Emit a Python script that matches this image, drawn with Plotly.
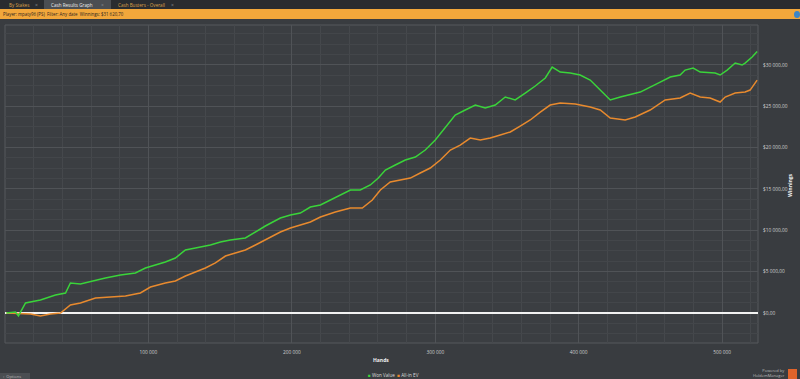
import plotly.graph_objects as go

# ---- data ----
net_hands = [1000, 7300, 9400, 14300, 24700, 35200, 42200, 45600, 52600, 63100, 70000, 80500,
             90900, 97900, 104900, 111800, 118800, 125800, 132800, 143200, 150200, 157100,
             167600, 174600, 181500, 192000, 199000, 205900, 212900, 219900, 226800, 233800,
             240800, 247700, 254700, 260300, 265200, 272100, 279100, 286100, 293000, 300000,
             307000, 313900, 320900, 327900, 334800, 341800, 348800, 355700, 362700, 369700,
             376700, 381500, 387100, 394100, 401000, 408000, 415000, 422000, 429000, 442900,
             456800, 463800, 470700, 474200, 479800, 484700, 495100, 498600, 503500, 509100,
             513900, 516000, 520900, 524400]
net_won = [0, 120, -360, 1210, 1570, 2180, 2420, 3630, 3510, 3990, 4230, 4590,
           4840, 5440, 5800, 6170, 6650, 7620, 7860, 8220, 8590, 8830,
           9070, 9790, 10520, 11490, 11850, 12090, 12820, 13060, 13660, 14270,
           14870, 14870, 15480, 16320, 17290, 17900, 18500, 18860, 19710, 20920,
           22490, 23940, 24550, 25150, 24790, 25150, 26120, 25760, 26600, 27450,
           28420, 29750, 29140, 29020, 28780, 28170, 26960, 25760, 26120, 26720,
           27930, 28540, 28780, 29380, 29630, 29140, 29020, 28780, 29380, 30230,
           29990, 30230, 30960, 31620]

ev_hands = [1000, 10800, 17800, 24700, 31700, 38700, 45600, 52600, 63100, 73500, 84000, 94400,
            101400, 111800, 118800, 125800, 132800, 139700, 146700, 153700, 160600, 167600,
            174600, 181500, 192000, 199000, 205900, 212900, 219900, 230300, 240800, 249100,
            256100, 261700, 268600, 275600, 282600, 289500, 296500, 303500, 310500, 317400,
            324400, 331400, 338300, 345300, 352300, 359200, 366200, 373200, 380100, 387100,
            397600, 408000, 415000, 422000, 432400, 439400, 449800, 460300, 470700, 477700,
            484700, 491600, 498600, 502100, 509100, 516000, 519500, 524400]
ev_won = [0, -120, -120, -360, -120, 0, 970, 1210, 1810, 1930, 2060, 2420,
          3140, 3630, 3870, 4470, 4960, 5440, 6050, 6890, 7260, 7620,
          8220, 8830, 9790, 10280, 10640, 11000, 11610, 12210, 12700, 12700,
          13660, 14870, 15840, 16080, 16320, 16930, 17530, 18500, 19710, 20310,
          21160, 20920, 21160, 21520, 21890, 22610, 23340, 24300, 25150, 25390,
          25270, 24910, 24550, 23580, 23340, 23700, 24550, 25760, 26000, 26600,
          26120, 26000, 25510, 26120, 26600, 26720, 26960, 28170]

x_ticks = [100000, 200000, 300000, 400000, 500000]
x_labels = ["100 000", "200 000", "300 000", "400 000", "500 000"]
y_ticks = [0, 5000, 10000, 15000, 20000, 25000, 30000]
y_labels = ["$0,00", "$5 000,00", "$10 000,00", "$15 000,00", "$20 000,00", "$25 000,00", "$30 000,00"]

series_names = ["Won Value", "All-in EV"]
header_text = "Player: mpaty96 (PS)  Filter: Any date  Winnings: $31 620,70"
tab_names = ["By Stakes", "Cash Results Graph", "Cash Busters - Overall"]

# ---- style ----
GREEN = "#3ad43a"
ORANGE = "#e88a2e"
FONT = "Open Sans"
W, H = 800, 379
ML, MR, MT, MB = 5, 42, 25, 36
PW, PH = W - ML - MR, H - MT - MB


def px(x):
    return (x - ML) / PW


def py(y):
    return (H - MB - y) / PH


fig = go.Figure()
fig.add_trace(go.Scatter(x=ev_hands, y=ev_won, mode="lines", name=series_names[1],
                         line=dict(color=ORANGE, width=1.5), showlegend=False))
fig.add_trace(go.Scatter(x=net_hands, y=net_won, mode="lines", name=series_names[0],
                         line=dict(color=GREEN, width=1.5), showlegend=False))

shapes = []
shapes.append(dict(type="rect", xref="paper", yref="paper", x0=px(0), x1=px(800),
                   y0=py(9), y1=py(0), fillcolor="#2a2c2f", line_width=0, layer="above"))
shapes.append(dict(type="rect", xref="paper", yref="paper", x0=px(44), x1=px(111),
                   y0=py(9), y1=py(0), fillcolor="#4b4e52", line_width=0, layer="above"))
shapes.append(dict(type="rect", xref="paper", yref="paper", x0=px(0), x1=px(800),
                   y0=py(19), y1=py(9), fillcolor="#f2a73b", line_width=0, layer="above"))
shapes.append(dict(type="rect", xref="paper", yref="paper", x0=0, x1=1, y0=0, y1=1,
                   line=dict(color="#56595d", width=1), layer="below"))
shapes.append(dict(type="rect", xref="paper", yref="paper", x0=px(0), x1=px(30),
                   y0=py(379), y1=py(373), fillcolor="#4b4e52", line_width=0, layer="above"))
shapes.append(dict(type="rect", xref="paper", yref="paper", x0=px(788), x1=px(797),
                   y0=py(379), y1=py(369), fillcolor="#e0632a", line_width=0, layer="above"))
shapes.append(dict(type="circle", xref="paper", yref="paper", x0=px(794), x1=px(800),
                   y0=py(18), y1=py(11), fillcolor="#3d86c6", line_width=0, layer="above"))

ann = []
tab_x = [8, 50, 117]
tab_close = [36, 102, 172]
for name, tx, cx, active in zip(tab_names, tab_x, tab_close, [False, True, False]):
    ann.append(dict(text=name, x=px(tx), y=py(4.5), xref="paper", yref="paper",
                    xanchor="left", yanchor="middle", showarrow=False, borderpad=0,
                    font=dict(size=4.6, color="#ececec" if active else "#dca24a", family=FONT)))
    ann.append(dict(text="×", x=px(cx), y=py(4.5), xref="paper", yref="paper",
                    xanchor="center", yanchor="middle", showarrow=False, borderpad=0,
                    font=dict(size=5, color="#8a8d90")))
ann.append(dict(text=header_text, x=px(2), y=py(14), xref="paper", yref="paper",
                xanchor="left", yanchor="middle", showarrow=False, borderpad=0,
                font=dict(size=4.4, color="#2a2320", family=FONT)))
ann.append(dict(text="<b>Hands</b>", x=px(381), y=py(360), xref="paper", yref="paper",
                xanchor="center", yanchor="middle", showarrow=False, borderpad=0,
                font=dict(size=5, color="#f0f0f0", family=FONT)))
ann.append(dict(text="<b>Winnings</b>", x=px(790), y=py(185), xref="paper", yref="paper",
                xanchor="center", yanchor="middle", showarrow=False, textangle=-90, borderpad=0,
                font=dict(size=5, color="#f0f0f0", family=FONT)))
ann.append(dict(text="‹  Options", x=px(2), y=py(376.5), xref="paper", yref="paper",
                xanchor="left", yanchor="middle", showarrow=False, borderpad=0,
                font=dict(size=4, color="#bbbbbb", family=FONT)))
ann.append(dict(text="Powered by<br>HoldemManager", x=px(786), y=py(373), xref="paper",
                yref="paper", xanchor="right", yanchor="middle", showarrow=False, align="right",
                borderpad=0, font=dict(size=4, color="#bbbbbb", family=FONT)))
legend_text = (f"<span style='color:{GREEN}'>■</span> {series_names[0]}  "
               f"<span style='color:{ORANGE}'>■</span> {series_names[1]}")
ann.append(dict(text=legend_text, x=px(367), y=py(375), xref="paper", yref="paper",
                xanchor="left", yanchor="middle", showarrow=False, borderpad=0,
                font=dict(size=4.6, color="#dddddd", family=FONT)))

fig.update_layout(
    width=W, height=H,
    margin=dict(l=ML, r=MR, t=MT, b=MB),
    paper_bgcolor="#393c40",
    plot_bgcolor="#3b3e42",
    shapes=shapes,
    annotations=ann,
    showlegend=False,
    xaxis=dict(range=[0, 525000], tickvals=x_ticks, ticktext=x_labels,
               showgrid=True, gridcolor="#505357", gridwidth=1, zeroline=False,
               tickfont=dict(size=4.8, color="#d0d0d0", family=FONT),
               ticks="outside", ticklen=4, tickcolor="rgba(0,0,0,0)", showline=False,
               automargin=False,
               minor=dict(dtick=20000, showgrid=True, gridcolor="#45484c", gridwidth=1)),
    yaxis=dict(range=[-3630, 34830], side="right", tickvals=y_ticks, ticktext=y_labels,
               showgrid=True, gridcolor="#505357", gridwidth=1,
               zeroline=True, zerolinecolor="#f2f2f2", zerolinewidth=1.6,
               tickfont=dict(size=4.8, color="#d0d0d0", family=FONT),
               ticks="outside", ticklen=3, tickcolor="rgba(0,0,0,0)", showline=False,
               automargin=False,
               minor=dict(dtick=1250, showgrid=True, gridcolor="#43464a", gridwidth=1)),
)

fig.write_html("out.html", config={"displayModeBar": False},
               post_script="document.body.style.margin='0';")
